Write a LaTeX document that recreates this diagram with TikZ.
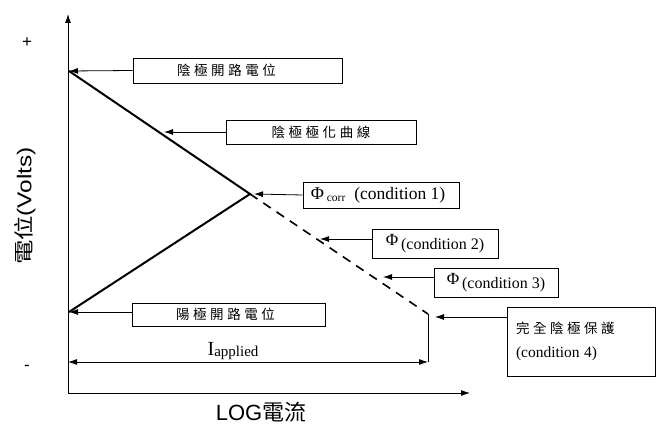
\documentclass[tikz,border=0pt]{standalone}
\usepackage{fontspec}
\setmainfont{Liberation Serif}
\newfontfamily\cjk[LetterSpace=26]{Noto Sans CJK TC}
\newfontfamily\cjkplain{Noto Sans CJK TC}
\newfontfamily\axisfont{Liberation Sans}
\usetikzlibrary{arrows.meta}

\begin{document}
\begin{tikzpicture}[x=1pt,y=-1pt,>={Latex[length=9pt,width=6pt]},
    box/.style={draw,line width=0.8pt,inner sep=2pt,font=\fontsize{13.5}{16}\selectfont},
    tag/.style={->,line width=0.8pt},
    curve/.style={line width=2pt}]
    \useasboundingbox (0,0) rectangle (656,430);

    % axes
    \coordinate (o) at (68,393);
    \coordinate (ytop) at (68,14);
    \coordinate (xend) at (470,393);
    \draw[->,line width=0.8pt] (o) -- (ytop);
    \draw[->,line width=0.8pt] (o) -- (xend);
    \node (plus) at (27,43) {\axisfont\fontsize{17}{19}\selectfont +};
    \node (minus) at (27,368) {\axisfont\fontsize{17}{19}\selectfont -};
    \node[rotate=90] (ylab) at (25,206)
        {\scalebox{1.22}[1]{\fontsize{20}{22}\selectfont\cjkplain 電位\axisfont(Volts)}};
    \node (xlab) at (261,412) {\fontsize{22}{24}\selectfont\axisfont LOG\cjkplain 電流};

    % polarisation curves
    \coordinate (ec) at (69,71);
    \coordinate (ea) at (69,312);
    \coordinate (corr) at (250,194);
    \coordinate (prot) at (428,314);
    \coordinate (iend) at (428,362);
    \coordinate (istart) at (68,362);
    \draw[curve] (ec) -- (corr) -- (ea);
    \draw[line width=1.6pt,dash pattern=on 9pt off 7pt] (corr) -- (prot);
    \draw[line width=0.8pt] (prot) -- (iend);
    \draw[<->,line width=0.8pt] (istart) -- (iend);
    \node (iapp) at (233,351) {\fontsize{20}{22}\selectfont I\raisebox{-0.1ex}{\fontsize{15}{17}\selectfont applied}};

    % labels
    \node[box,minimum width=209pt,minimum height=25pt] (b1) at (237.5,70.5) {\hspace*{-22pt}\cjk 陰極開路電位};
    \node[box,minimum width=190pt,minimum height=24pt] (b2) at (321,132) {\cjk 陰極極化曲線};
    \node[box,minimum width=156pt,minimum height=26pt] (b3) at (381,195)
        {\hspace*{-6pt}\fontsize{18}{19}\selectfont Φ\raisebox{-0.3ex}{\fontsize{11.5}{12}\selectfont\ corr}\ \ \fontsize{17.5}{18}\selectfont(condition 1)};
    \node[box,minimum width=126pt,minimum height=29pt] (b4) at (435,243.5)
        {\fontsize{17}{19}\selectfont Φ\,\raisebox{-0.6ex}{\fontsize{16}{17}\selectfont(condition 2)}};
    \node[box,minimum width=124pt,minimum height=29pt] (b5) at (496,282.5)
        {\fontsize{17}{19}\selectfont Φ\,\raisebox{-0.6ex}{\fontsize{16}{17}\selectfont(condition 3)}};
    \node[box,minimum width=193pt,minimum height=23pt] (b6) at (228.5,314.5) {\hspace*{-6pt}\cjk 陽極開路電位};
    \node[box,minimum width=148pt,minimum height=69pt,text width=130pt,align=left,
        inner sep=9pt] (b7) at (581,341.5)
        {{\cjk 完全陰極保護}\\[8pt]{\fontsize{15.5}{17}\selectfont(condition 4)}};

    \coordinate (t2) at (164,132);
    \coordinate (t3) at (254,194);
    \coordinate (t4) at (320,239);
    \coordinate (t5) at (383,277);
    \coordinate (t7) at (435,317);
    \draw[tag] (b1.west) -- (ec);
    \draw[tag] (b2.west) -- (t2);
    \draw[tag] (b3.west) -- (t3);
    \draw[tag] (b4.west |- t4) -- (t4);
    \draw[tag] (b5.west |- t5) -- (t5);
    \draw[tag] (b6.west |- ea) -- (ea);
    \draw[tag] (b7.west |- t7) -- (t7);
\end{tikzpicture}
\end{document}
